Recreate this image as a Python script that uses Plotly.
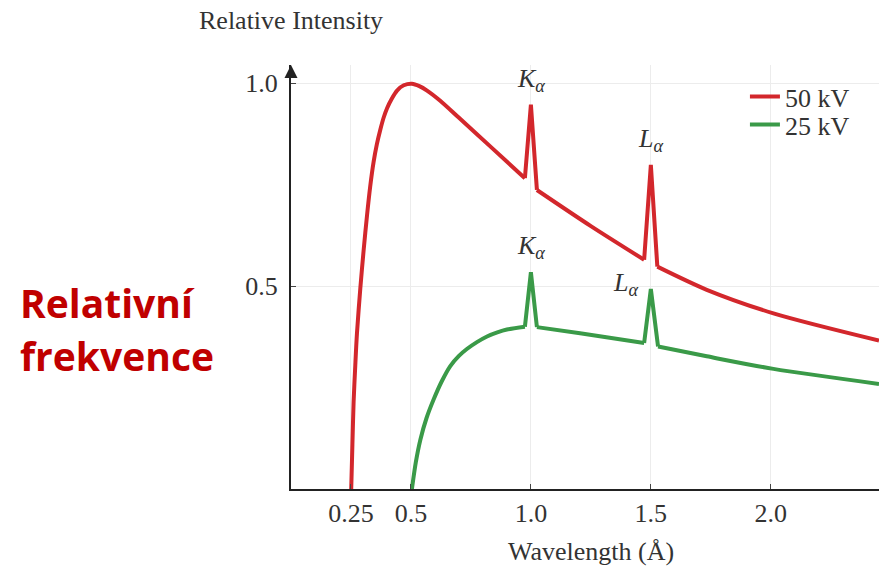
import plotly.graph_objects as go

# ---- data ----
wl_50kv = [0.251, 0.256, 0.261, 0.268, 0.275, 0.289, 0.303, 0.317, 0.330, 0.344, 0.358,
           0.372, 0.386, 0.400, 0.420, 0.442, 0.470, 0.504, 0.535, 0.567, 0.622,
           0.698, 0.835, 0.975, 1.000, 1.025, 1.250, 1.472, 1.500,
           1.527, 1.733, 2.011, 2.451]
int_50kv = [0.000, 0.110, 0.215, 0.305, 0.384, 0.495, 0.590, 0.675, 0.745, 0.805, 0.850,
            0.885, 0.915, 0.938, 0.962, 0.982, 0.995, 0.999, 0.993, 0.982, 0.957,
            0.916, 0.842, 0.766, 0.947, 0.737, 0.648, 0.565, 0.799,
            0.548, 0.491, 0.433, 0.366]

wl_25kv = [0.504, 0.520, 0.539, 0.565, 0.594, 0.628, 0.664, 0.700, 0.733, 0.775,
           0.817, 0.860, 0.900, 0.975, 1.000, 1.025, 1.205, 1.472, 1.500, 1.530,
           1.733, 2.011, 2.451]
int_25kv = [0.000, 0.065, 0.121, 0.175, 0.220, 0.265, 0.303, 0.328, 0.345, 0.362,
            0.376, 0.386, 0.393, 0.400, 0.534, 0.399, 0.384, 0.360, 0.493, 0.351,
            0.327, 0.296, 0.259]

series_names = ["50 kV", "25 kV"]
line_peaks = [1.0, 1.5]          # characteristic line positions (Kα, Lα)
x_ticks = [0.25, 0.5, 1.0, 1.5, 2.0]
x_tick_labels = ["0.25", "0.5", "1.0", "1.5", "2.0"]
y_ticks = [0.5, 1.0]
y_tick_labels = ["0.5", "1.0"]

# peak labels: (x, y of peak, text, xshift, yshift)
peak_labels = [
    (1.0, 0.947, "<i>K<sub>α</sub></i>", 0, 25),
    (1.5, 0.799, "<i>L<sub>α</sub></i>", 0, 25),
    (1.0, 0.534, "<i>K<sub>α</sub></i>", 0, 25),
    (1.5, 0.493, "<i>L<sub>α</sub></i>", -25, 5),
]

RED = "#d3272c"
GREEN = "#3a9a48"
TEXT = "#333333"
SERIF = "Liberation Serif"
FS = 26


def segments(xs, ys, peaks):
    """Split a spectrum into smooth (spline) parts and sharp line parts (linear)."""
    segs = []
    start = 0
    for p in peaks:
        i = xs.index(p)
        segs.append((xs[start:i], ys[start:i], "spline"))
        segs.append((xs[i - 1:i + 2], ys[i - 1:i + 2], "linear"))
        start = i + 1
    segs.append((xs[start:], ys[start:], "spline"))
    return segs


fig = go.Figure()
for name, xs, ys, color, leg in [(series_names[0], wl_50kv, int_50kv, RED, "legend"),
                                 (series_names[1], wl_25kv, int_25kv, GREEN, "legend2")]:
    for k, (sx, sy, shape) in enumerate(segments(xs, ys, line_peaks)):
        fig.add_trace(go.Scatter(x=sx, y=sy, mode="lines", name=name, legendgroup=name,
                                 legend=leg, showlegend=(k == 0),
                                 line=dict(color=color, width=4, shape=shape, smoothing=0.8)))

annotations = []
for px, py, txt, xs_, ys_ in peak_labels:
    annotations.append(dict(x=px, y=py, xref="x", yref="y", text=txt, showarrow=False,
                            xshift=xs_, yshift=ys_, font=dict(family=SERIF, size=FS, color=TEXT)))

# y axis arrow head
annotations.append(dict(x=0, y=1.045, xref="x", yref="y", ax=0, ay=14, axref="pixel",
                        ayref="pixel", text="", showarrow=True, arrowhead=2, arrowsize=1.3,
                        arrowwidth=2, arrowcolor="#222222", standoff=0))
# axis titles
annotations.append(dict(x=0, y=1, xref="x", yref="paper", yshift=61, text="Relative Intensity",
                        showarrow=False, font=dict(family=SERIF, size=FS, color=TEXT)))
annotations.append(dict(x=0.51, y=0, xref="paper", yref="paper", yshift=-79,
                        text="Wavelength (Å)", showarrow=False,
                        font=dict(family=SERIF, size=FS, color=TEXT)))
# red side label
annotations.append(dict(x=-0.465, y=(489.3 - 303) / 424, xref="paper", yref="paper",
                        xanchor="left", yanchor="middle", text="<b>Relativní</b>",
                        showarrow=False, font=dict(family="Open Sans", size=39, color="#c00000")))
annotations.append(dict(x=-0.465, y=(489.3 - 356) / 424, xref="paper", yref="paper",
                        xanchor="left", yanchor="middle", text="<b>frekvence</b>",
                        showarrow=False, font=dict(family="Open Sans", size=39, color="#c00000")))

legend_common = dict(xanchor="left", yanchor="middle", bgcolor="rgba(0,0,0,0)",
                     font=dict(family=SERIF, size=FS, color=TEXT))

fig.update_layout(
    width=879, height=571,
    margin=dict(l=291, r=0, t=65, b=82),
    paper_bgcolor="white", plot_bgcolor="white",
    font=dict(family=SERIF, size=FS, color=TEXT),
    showlegend=True,
    legend=dict(x=0.772, y=(489.3 - 97) / 424, **legend_common),
    legend2=dict(x=0.772, y=(489.3 - 125) / 424, **legend_common),
    annotations=annotations,
    xaxis=dict(range=[0, 2.451], tickvals=x_ticks, ticktext=x_tick_labels,
               showgrid=True, gridcolor="#ececec", gridwidth=1, zeroline=False,
               showline=True, linecolor="#222222", linewidth=2,
               ticks="inside", ticklen=5, tickcolor="#444444", tickwidth=1),
    yaxis=dict(range=[0, 1.045], tickvals=y_ticks, ticktext=y_tick_labels,
               showgrid=True, gridcolor="#ececec", gridwidth=1, zeroline=False,
               showline=True, linecolor="#222222", linewidth=2,
               ticks="inside", ticklen=5, tickcolor="#444444", tickwidth=1,
               ticklabelstandoff=6),
)

fig.write_html("out.html")
